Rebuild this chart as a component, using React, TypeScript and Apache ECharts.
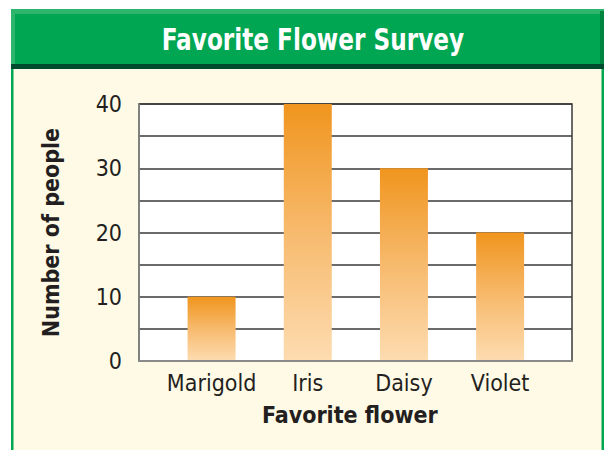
import React, { useEffect, useRef } from "react";
import * as echarts from "echarts";

const titleText = "Favorite Flower Survey";
const categories = ["Marigold", "Iris", "Daisy", "Violet"];
const values = [10, 40, 30, 20];
const yAxisTitle = "Number of people";
const xAxisTitle = "Favorite flower";
const yMin = 0;
const yMax = 40;
const yStep = 5;
const yLabelStep = 10;

const FONT = "'DejaVu Sans Condensed', 'Liberation Sans Narrow', 'Open Sans', sans-serif";

export default function App() {
  const ref = useRef<HTMLDivElement>(null);
  useEffect(() => {
    if (!ref.current) return;
    const chart = echarts.init(ref.current, undefined, { renderer: "svg" });
    const barGradient = new echarts.graphic.LinearGradient(0, 0, 0, 1, [
      { offset: 0, color: "#f0951e" },
      { offset: 0.5, color: "#f7ba6d" },
      { offset: 1, color: "#fddcb1" },
    ]);
    chart.setOption({
      animation: false,
      backgroundColor: "#ffffff",
      graphic: [
        { type: "rect", z: -10, shape: { x: 11, y: 9, width: 593, height: 441 }, style: { fill: "#00a651" } },
        { type: "rect", z: -9, shape: { x: 13.5, y: 69, width: 588, height: 381 }, style: { fill: "#fefae6" } },
        { type: "rect", z: -9, shape: { x: 11, y: 9, width: 593, height: 5 }, style: { fill: "#2db56e" } },
        { type: "rect", z: -9, shape: { x: 11, y: 9, width: 4, height: 55 }, style: { fill: "#2db56e" } },
        { type: "rect", z: -9, shape: { x: 600, y: 11, width: 4, height: 53 }, style: { fill: "#00843f" } },
        { type: "rect", z: -9, shape: { x: 11, y: 64, width: 593, height: 5 }, style: { fill: "#004b2d" } },
        {
          type: "text",
          z: 10,
          x: 313,
          y: 40,
          scaleX: 0.86,
          style: {
            text: titleText,
            fill: "#ffffff",
            font: `bold 30px ${FONT}`,
            align: "center",
            verticalAlign: "middle",
          },
        },
      ],
      grid: [
        { left: 139, right: 34, top: 104, bottom: 89, show: true, backgroundColor: "#ffffff", borderColor: "#3a3a3a", borderWidth: 1.5 },
        { left: 163.5, right: 57.8, top: 104, bottom: 89 },
      ],
      xAxis: [
        {
          gridIndex: 0,
          type: "category",
          data: categories,
          axisLine: { show: true, lineStyle: { color: "#8a8a8a", width: 2 } },
          axisTick: { show: false },
          axisLabel: { show: false },
          splitLine: { show: false },
          z: 5,
        },
        {
          gridIndex: 1,
          type: "category",
          data: categories,
          axisLine: { show: false },
          axisTick: { show: false },
          axisLabel: { show: true, interval: 0, color: "#231f20", fontSize: 23, fontFamily: FONT, margin: 10 },
          name: xAxisTitle,
          nameLocation: "middle",
          nameGap: 42,
          nameTextStyle: { color: "#231f20", fontSize: 23, fontWeight: "bold", fontFamily: FONT, padding: [0, 12, 0, 0] },
        },
      ],
      yAxis: [
        {
          gridIndex: 0,
          type: "value",
          min: yMin,
          max: yMax,
          interval: yStep,
          axisLine: { show: true, lineStyle: { color: "#8a8a8a", width: 1.5 } },
          axisTick: { show: false },
          axisLabel: {
            color: "#231f20",
            fontSize: 23,
            fontFamily: FONT,
            margin: 17,
            formatter: (v: number) => (v % yLabelStep === 0 ? String(v) : ""),
          },
          splitLine: { show: true, lineStyle: { color: "#3a3a3a", width: 1.5 } },
          name: yAxisTitle,
          nameLocation: "middle",
          nameRotate: 90,
          nameGap: 77,
          nameTextStyle: { color: "#231f20", fontSize: 23, fontWeight: "bold", fontFamily: FONT },
        },
        {
          gridIndex: 1,
          type: "value",
          min: yMin,
          max: yMax,
          show: false,
        },
      ],
      series: [
        {
          type: "bar",
          xAxisIndex: 1,
          yAxisIndex: 1,
          data: values,
          barWidth: 48,
          itemStyle: { color: barGradient },
        },
      ],
    });
    return () => chart.dispose();
  }, []);
  return <div ref={ref} style={{ position: "fixed", left: 0, top: 0, width: 606, height: 450 }} />;
}
